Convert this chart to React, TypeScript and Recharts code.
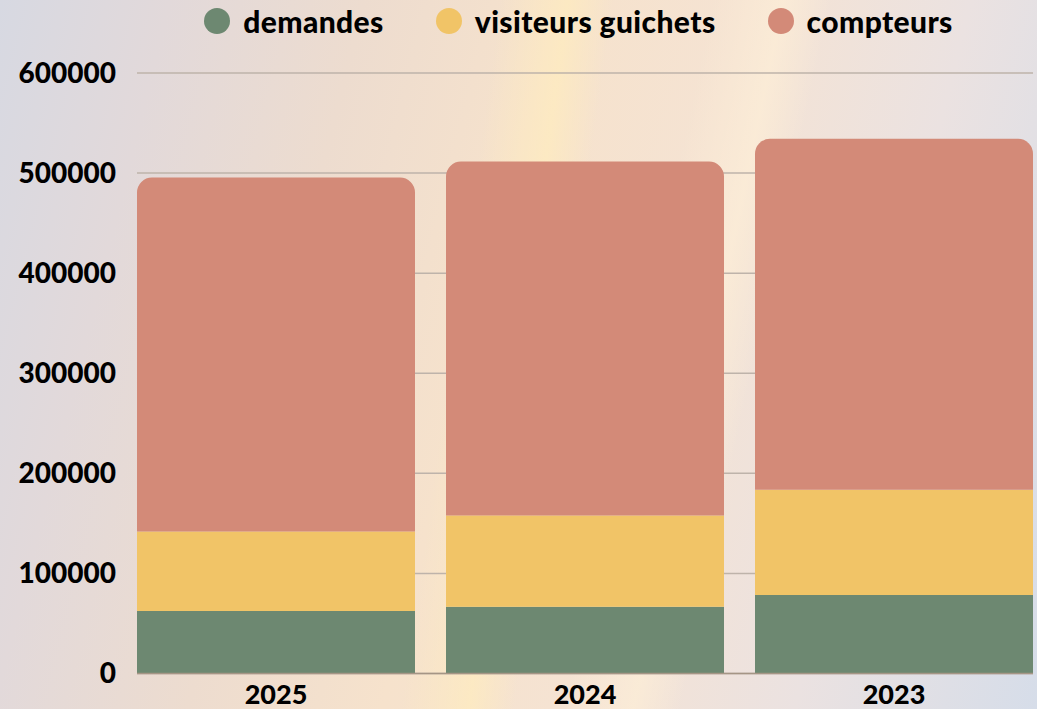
import { BarChart, Bar, XAxis, YAxis, CartesianGrid, Legend } from "recharts"

// values
const years = ["2025", "2024", "2023"]
const demandes = [62500, 66800, 78500]
const visiteursGuichets = [79300, 91000, 105000]
const compteurs = [353700, 353700, 350700]
const yTicks = [0, 100000, 200000, 300000, 400000, 500000, 600000]

const data = years.map((year, i) => ({
  year,
  demandes: demandes[i],
  visiteurs: visiteursGuichets[i],
  compteurs: compteurs[i],
}))

const FONT = "Lato, 'Noto Sans', sans-serif"

const legendItems = [
  { label: "demandes", color: "#6d8871" },
  { label: "visiteurs guichets", color: "#f1c467" },
  { label: "compteurs", color: "#d38a78" },
]

function ChartLegend() {
  return (
    <div
      style={{
        display: "flex",
        justifyContent: "center",
        paddingLeft: 120,
        height: 53,
        alignItems: "flex-start",
        fontFamily: FONT,
      }}
    >
      {legendItems.map((item) => (
        <div key={item.label} style={{ display: "flex", alignItems: "center", margin: "0 26px" }}>
          <span
            style={{
              width: 26,
              height: 26,
              borderRadius: "50%",
              background: item.color,
              marginRight: 13,
            }}
          />
          <span
            style={{
              fontSize: 30,
              fontWeight: 900,
              letterSpacing: 0.4,
              color: "#000",
              lineHeight: "30px",
            }}
          >
            {item.label}
          </span>
        </div>
      ))}
    </div>
  )
}

export default function App() {
  return (
    <div
      style={{
        position: "absolute",
        left: 0,
        top: 0,
        width: 1037,
        height: 709,
        overflow: "hidden",
        background:
          "linear-gradient(98deg, rgba(255,255,255,0) 44%, rgba(255,236,190,0.7) 50%, rgba(255,255,255,0) 54%)," +
          "linear-gradient(102deg, rgba(255,255,255,0) 60%, rgba(255,240,215,0.6) 66%, rgba(255,255,255,0) 70%)," +
          "linear-gradient(104deg, #d7d9e2 0%, #e2d9da 14%, #eddccf 30%, #f6e2cc 46%, #f5e3d3 62%, #ebe2e1 80%, #d6dde9 100%)",
      }}
    >
      <BarChart
        width={1037}
        height={709}
        data={data}
        margin={{ top: 20, right: 4, left: 0, bottom: 0 }}
        barCategoryGap={15.5}
        style={{ fontFamily: FONT }}
      >
        <CartesianGrid vertical={false} stroke="#beb3aa" strokeWidth={1.5} />
        <XAxis
          dataKey="year"
          height={35.5}
          padding={{ left: -15.5, right: -15.5 }}
          axisLine={{ stroke: "#a59585", strokeWidth: 1.5 }}
          tickLine={false}
          tickSize={0}
          tickMargin={11}
          tick={{ fill: "#000", fontSize: 27, fontWeight: 900 }}
        />
        <YAxis
          width={137}
          domain={[0, 600000]}
          ticks={yTicks}
          axisLine={false}
          tickLine={false}
          tickSize={0}
          tickMargin={21}
          tick={{ fill: "#000", fontSize: 28, fontWeight: 900 }}
        />
        <Legend verticalAlign="top" wrapperStyle={{ top: 6, left: 0, width: 1037 }} content={() => <ChartLegend />} />
        <Bar dataKey="demandes" name="demandes" stackId="a" fill="#6d8871" isAnimationActive={false} />
        <Bar dataKey="visiteurs" name="visiteurs guichets" stackId="a" fill="#f1c467" isAnimationActive={false} />
        <Bar
          dataKey="compteurs"
          name="compteurs"
          stackId="a"
          fill="#d38a78"
          radius={[15, 15, 0, 0]}
          isAnimationActive={false}
        />
      </BarChart>
    </div>
  )
}
